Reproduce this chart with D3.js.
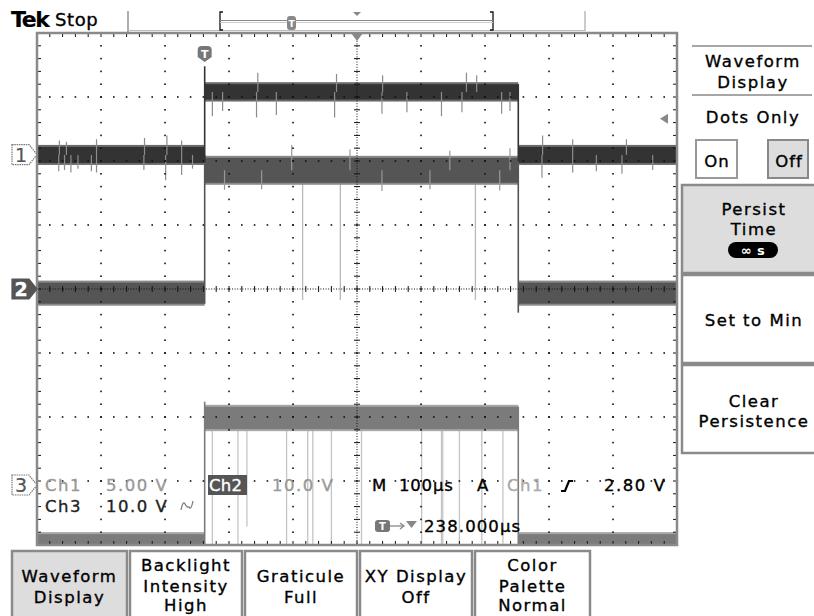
<!DOCTYPE html>
<html><head><meta charset="utf-8">
<script src="https://cdn.jsdelivr.net/npm/d3@7"></script>
<style>
html,body{margin:0;padding:0;background:#fff;}
svg{display:block;}
text{font-family:"DejaVu Sans",sans-serif;}
</style></head><body>
<svg id="c" width="814" height="616"></svg>
<script>
// ================= DATA =================
const timeRange = [-262, 738];     // µs across 10 divisions (100 µs/div, delay 238 µs)
const divRange = [-4, 4];          // vertical divisions
const edgeTimes = [0, 490];        // rising / falling edge times, µs

const ch1Pos = 2.1,  ch1Scale = 5;   // position (div), V/div
const ch2Pos = 0,    ch2Scale = 10;
const ch3Pos = -3.05, ch3Scale = 10;

const ch1Low = [-0.65, 0.6],  ch1High = [4.3, 5.5];
const ch2Low = [-2.3, 1.0],   ch2High = [16.6, 20.5];
const ch3Low = [-9.4, -7.8],  ch3High = [8.6, 12.1];

const ch1EdgeRise = [-0.6, 6.9], ch1EdgeFall = [-0.5, 5.5];
const ch2EdgeRise = [-2.3, 21.0], ch2EdgeFall = [-3.7, 20.5];
const ch3EdgeRise = [-9.4, 12.9], ch3EdgeFall = [-9.4, 12.1];

// noise spikes [time µs, extreme value V]
const ch1Spikes = [
  [-228,-1.3],[-219,-1.2],[-209,-1.4],[-198,-1.1],[-177,-1.3],[-169,-1.4],[-95,-1.2],[-61,-2.0],[-36,-1.6],[-19,-1.1],
  [-227,1.1],[-216,1.0],[-169,1.2],[-94,1.3],[-59,1.5],[-36,1.1],
  [12,3.0],[28,3.4],[81,2.9],[112,3.1],[203,2.9],[277,3.2],[316,3.3],[370,3.0],[402,3.3],[464,3.2],[477,3.4],
  [83,6.4],[206,6.3],[278,6.2],[409,6.4],[425,6.2],
  [527,-1.8],[575,-1.4],[612,-1.3],[652,-1.5],[700,-1.2],
  [528,1.5],[575,1.2],[659,1.2]
];
const ch2Spikes = [
  [136,22.5],[227,21.8],[383,21.6],[477,22.0],
  [31,15.5],[89,15.6],[277,15.3],[352,15.6],[461,15.4]
];
const ch2Dropouts = [153, 212, 423];          // µs
const ch2DropoutLevel = -1.7;                  // V
const ch3Dropouts = [12, 52, 66, 128, 161, 169, 198, 245, 339, 370, 372, 398, 433, 466]; // µs
const ch3DropoutEnds = [-9.4, -9.4, -6.6, -9.4, -9.4, -9.4, -9.4, -9.4, -9.4, -9.4, -9.4, -9.4, -9.4, -9.4]; // V

const triggerLevel = 2.8;                      // V on Ch1

const bottomMenu = [
  ["Waveform","Display"],
  ["Backlight","Intensity","High"],
  ["Graticule","Full"],
  ["XY Display","Off"],
  ["Color","Palette","Normal"]
];
const readout1 = ["Ch1", "5.00 V", "Ch2", "10.0 V", "M", "100µs", "A", "Ch1", "2.80 V"];
const readout2 = ["Ch3", "10.0 V"];
const readout3 = "238.000µs";

// ================= DRAWING =================
const svg = d3.select("#c");
const L = 37, R = 677, T = 33, B = 545;
const x = d3.scaleLinear().domain(timeRange).range([L, R]);
const yd = d3.scaleLinear().domain(divRange).range([B, T]);
const chY = (pos, sc) => v => yd(pos + v / sc);
const y1 = chY(ch1Pos, ch1Scale), y2 = chY(ch2Pos, ch2Scale), y3 = chY(ch3Pos, ch3Scale);

svg.append("defs").append("clipPath").attr("id","gclip")
  .append("rect").attr("x",L).attr("y",T).attr("width",R-L).attr("height",B-T);

const g = svg.append("g").attr("clip-path","url(#gclip)");

function txt(parent, s, xx, yy, opt={}) {
  const fill = opt.fill || "#000";
  return parent.append("text").attr("x",xx).attr("y",yy)
    .attr("font-size", opt.size || 16.5)
    .attr("letter-spacing", opt.ls !== undefined ? opt.ls : 1.5)
    .attr("text-anchor", opt.anchor || "start")
    .attr("font-weight", opt.weight || "normal")
    .attr("font-family", opt.family || "DejaVu Sans")
    .attr("fill", fill)
    .attr("stroke", opt.nostroke ? null : fill)
    .attr("stroke-width", opt.nostroke ? null : (opt.sw || 0.35))
    .text(s);
}

function segs(low, high) {
  return [
    {t0: timeRange[0], t1: edgeTimes[0], b: low},
    {t0: edgeTimes[0], t1: edgeTimes[1], b: high},
    {t0: edgeTimes[1], t1: timeRange[1], b: low}
  ];
}
const channels = [
  {y: y3, low: ch3Low, high: ch3High, core: "#7b7b7b", halo: "#a8a8a8", rise: ch3EdgeRise, fall: ch3EdgeFall},
  {y: y2, low: ch2Low, high: ch2High, core: "#555", halo: "#8a8a8a", rise: ch2EdgeRise, fall: ch2EdgeFall},
  {y: y1, low: ch1Low, high: ch1High, core: "#333", halo: "#6a6a6a", rise: ch1EdgeRise, fall: ch1EdgeFall}
];

g.selectAll("line.d3o").data(ch3Dropouts).enter().append("line")
  .attr("x1", d => x(d)).attr("x2", d => x(d))
  .attr("y1", y3(ch3High[0])).attr("y2", (d,i) => y3(ch3DropoutEnds[i]))
  .attr("stroke","#c4c4c4").attr("stroke-width",1.3);
g.selectAll("line.d2o").data(ch2Dropouts).enter().append("line")
  .attr("x1", d => x(d)).attr("x2", d => x(d))
  .attr("y1", y2(ch2High[0])).attr("y2", y2(ch2DropoutLevel))
  .attr("stroke","#b8b8b8").attr("stroke-width",1.3);

channels.forEach(ch => {
  const s = segs(ch.low, ch.high);
  g.selectAll(null).data(s).enter().append("rect")
    .attr("x", d => x(d.t0)).attr("width", d => x(d.t1) - x(d.t0))
    .attr("y", d => ch.y(d.b[1]) - 2).attr("height", d => ch.y(d.b[0]) - ch.y(d.b[1]) + 4)
    .attr("fill", ch.halo);
  g.selectAll(null).data(s).enter().append("rect")
    .attr("x", d => x(d.t0)).attr("width", d => x(d.t1) - x(d.t0))
    .attr("y", d => ch.y(d.b[1])).attr("height", d => ch.y(d.b[0]) - ch.y(d.b[1]))
    .attr("fill", ch.core);
  [[edgeTimes[0], ch.rise], [edgeTimes[1], ch.fall]].forEach(([t, r]) => {
    g.append("line").attr("x1", x(t)).attr("x2", x(t))
      .attr("y1", ch.y(r[0])).attr("y2", ch.y(r[1]))
      .attr("stroke", ch.core).attr("stroke-width", 1.6);
  });
});

function spikeBase(t, low, high) {
  const inHigh = t >= edgeTimes[0] && t < edgeTimes[1];
  const b = inHigh ? high : low;
  return (b[0] + b[1]) / 2;
}
g.selectAll("line.s1").data(ch1Spikes).enter().append("line")
  .attr("x1", d => x(d[0])).attr("x2", d => x(d[0]))
  .attr("y1", d => y1(spikeBase(d[0], ch1Low, ch1High))).attr("y2", d => y1(d[1]))
  .attr("stroke","#8c8c8c").attr("stroke-width",1.2);
g.selectAll("line.s2").data(ch2Spikes).enter().append("line")
  .attr("x1", d => x(d[0])).attr("x2", d => x(d[0]))
  .attr("y1", d => y2(spikeBase(d[0], ch2Low, ch2High))).attr("y2", d => y2(d[1]))
  .attr("stroke","#999").attr("stroke-width",1.2);

// ---- graticule ----
const grid = svg.append("g");
const minorT = d3.range(0, 50.001, 1).map(i => timeRange[0] + i * (timeRange[1]-timeRange[0]) / 50);
const minorD = d3.range(0, 40.001, 1).map(i => divRange[0] + i * 0.2);
const majorT = d3.range(1, 10).map(i => timeRange[0] + i * 100);
const majorD = d3.range(-3, 4);
const tc = (timeRange[0] + timeRange[1]) / 2;
majorT.filter(t => Math.abs(t - tc) > 1).forEach(t => {
  minorD.slice(1, -1).forEach(dv => {
    grid.append("rect").attr("x", x(t) - 0.8).attr("y", yd(dv) - 0.8).attr("width",1.6).attr("height",1.6).attr("fill","#111");
  });
});
majorD.filter(dv => dv !== 0).forEach(dv => {
  minorT.slice(1, -1).forEach(t => {
    grid.append("rect").attr("x", x(t) - 0.8).attr("y", yd(dv) - 0.8).attr("width",1.6).attr("height",1.6).attr("fill","#111");
  });
});
grid.append("line").attr("x1",L).attr("x2",R).attr("y1",yd(0)).attr("y2",yd(0))
  .attr("stroke","#111").attr("stroke-width",1).attr("stroke-dasharray","1,1.6");
grid.append("line").attr("x1",x(tc)).attr("x2",x(tc)).attr("y1",T).attr("y2",B)
  .attr("stroke","#111").attr("stroke-width",1).attr("stroke-dasharray","1,1.6");
minorT.slice(1,-1).forEach(t => {
  grid.append("line").attr("x1",x(t)).attr("x2",x(t)).attr("y1",yd(0)-3).attr("y2",yd(0)+3).attr("stroke","#111").attr("stroke-width",1);
});
minorD.slice(1,-1).forEach(dv => {
  grid.append("line").attr("x1",x(tc)-3).attr("x2",x(tc)+3).attr("y1",yd(dv)).attr("y2",yd(dv)).attr("stroke","#111").attr("stroke-width",1);
});
minorT.slice(1,-1).forEach(t => {
  grid.append("line").attr("x1",x(t)).attr("x2",x(t)).attr("y1",T+1).attr("y2",T+4).attr("stroke","#111");
  grid.append("line").attr("x1",x(t)).attr("x2",x(t)).attr("y1",B-4).attr("y2",B-1).attr("stroke","#111");
});
minorD.slice(1,-1).forEach(dv => {
  grid.append("line").attr("x1",L+1).attr("x2",L+4).attr("y1",yd(dv)).attr("y2",yd(dv)).attr("stroke","#111");
  grid.append("line").attr("x1",R-4).attr("x2",R-1).attr("y1",yd(dv)).attr("y2",yd(dv)).attr("stroke","#111");
});
grid.append("rect").attr("x",L).attr("y",T).attr("width",R-L).attr("height",B-T)
  .attr("fill","none").attr("stroke","#8a8a8a").attr("stroke-width",2.5);

const xc = x(tc), xt = x(edgeTimes[0]);
svg.append("path").attr("d",`M${xc-6},${T} L${xc+6},${T} L${xc},${T+8} Z`).attr("fill","#888");
svg.append("path").attr("d",`M${xt-7},${50} q0,-4 4,-4 h6 q4,0 4,4 v7 l-7,5 l-7,-5 Z`).attr("fill","#777");
txt(svg,"T",xt,58,{size:11,ls:0,anchor:"middle",weight:"bold",fill:"#fff",nostroke:true});
const ytl = y1(triggerLevel);
svg.append("path").attr("d",`M${R-17},${ytl} L${R-9},${ytl-5} L${R-9},${ytl+5} Z`).attr("fill","#888");

function marker(yc, label, filled) {
  svg.append("path").attr("d",`M12,${yc-10} H29 L37,${yc} L29,${yc+10} H12 Z`)
    .attr("fill", filled ? "#555" : "#fff").attr("stroke", filled ? "#555" : "#777")
    .attr("stroke-width",1.2).attr("stroke-dasharray", filled ? null : "1.5,0.8");
  txt(svg,label,21,yc+7,{size:19,ls:0,anchor:"middle",weight: filled ? "bold":"normal", fill: filled ? "#fff" : "#555", sw: filled ? 0.3 : 0.2});
}
marker(y1(0), "1", false);
marker(y2(0), "2", true);
marker(485, "3", false);

// ---- readouts ----
txt(svg, readout1[0], 45, 491, {fill:"#999"});
txt(svg, readout1[1], 106, 491, {fill:"#999"});
svg.append("rect").attr("x",208).attr("y",475).attr("width",39).attr("height",20).attr("fill","#555");
txt(svg, readout1[2], 209, 491, {fill:"#fff", ls:0.3});
txt(svg, readout1[3], 272, 491, {fill:"#999"});
txt(svg, readout1[4], 372, 491, {});
txt(svg, readout1[5], 399, 491, {ls:0.8});
txt(svg, readout1[6], 477, 491, {});
txt(svg, readout1[7], 507, 491, {fill:"#aaa"});
svg.append("path").attr("d","M561,491 h4 L569,481 h4").attr("fill","none").attr("stroke","#000").attr("stroke-width",2.2);
txt(svg, readout1[8], 604, 491, {});
txt(svg, readout2[0], 45, 512, {fill:"#222"});
txt(svg, readout2[1], 106, 512, {fill:"#222"});
svg.append("path").attr("d","M181,510 q2,-10 4,-6 t4,3 q2,4 4,-6").attr("fill","none").attr("stroke","#777").attr("stroke-width",1.2);
svg.append("rect").attr("x",375).attr("y",520).attr("width",15).attr("height",12).attr("rx",3).attr("fill","#777");
txt(svg,"T",382.5,530,{size:10,ls:0,anchor:"middle",weight:"bold",fill:"#fff",nostroke:true});
svg.append("line").attr("x1",390).attr("x2",403).attr("y1",526).attr("y2",526).attr("stroke","#888").attr("stroke-width",1.3);
svg.append("path").attr("d","M400,523 L404,526 L400,529").attr("fill","none").attr("stroke","#888").attr("stroke-width",1.3);
svg.append("path").attr("d","M406,521 L417,521 L411.5,528 Z").attr("fill","#888");
txt(svg, readout3, 424, 532, {ls:1.1});

// ---- top bar ----
txt(svg,"Tek",11,27,{size:22,ls:-1.4,weight:"bold",family:"Liberation Serif",sw:0.2});
txt(svg,"Stop",55,26,{size:18,ls:0.6});
svg.append("line").attr("x1",128).attr("x2",128).attr("y1",11).attr("y2",32).attr("stroke","#777").attr("stroke-width",1.2);
svg.append("line").attr("x1",128).attr("x2",585).attr("y1",30.5).attr("y2",30.5).attr("stroke","#bbb").attr("stroke-width",1);
svg.append("line").attr("x1",585).attr("x2",585).attr("y1",11).attr("y2",31).attr("stroke","#aaa").attr("stroke-width",1.2);
svg.append("path").attr("d","M223,12 H220 V30 H223").attr("fill","none").attr("stroke","#111").attr("stroke-width",1.3);
svg.append("path").attr("d","M490,12 H493 V30 H490").attr("fill","none").attr("stroke","#111").attr("stroke-width",1.3);
svg.append("line").attr("x1",220).attr("x2",493).attr("y1",20.5).attr("y2",20.5).attr("stroke","#888").attr("stroke-width",1);
svg.append("line").attr("x1",220).attr("x2",493).attr("y1",22.5).attr("y2",22.5).attr("stroke","#ccc").attr("stroke-width",1);
svg.append("rect").attr("x",287).attr("y",16).attr("width",9).attr("height",14).attr("rx",3).attr("fill","#888");
txt(svg,"T",291.5,27,{size:9,ls:0,anchor:"middle",weight:"bold",fill:"#fff",nostroke:true});
svg.append("path").attr("d",`M${xc-4},12 L${xc+4},12 L${xc},16 Z`).attr("fill","#888");

// ---- right menu ----
const rm = svg.append("g");
rm.append("line").attr("x1",692).attr("x2",812).attr("y1",46).attr("y2",46).attr("stroke","#888").attr("stroke-width",1.6);
rm.append("line").attr("x1",692).attr("x2",812).attr("y1",95).attr("y2",95).attr("stroke","#888").attr("stroke-width",1.6);
txt(rm,"Waveform",753,67,{anchor:"middle"});
txt(rm,"Display",753,88,{anchor:"middle"});
txt(rm,"Dots Only",753,123,{anchor:"middle"});
rm.append("rect").attr("x",696).attr("y",140).attr("width",41).attr("height",38).attr("fill","#fff").attr("stroke","#999").attr("stroke-width",2);
rm.append("rect").attr("x",768).attr("y",140).attr("width",40).attr("height",38).attr("fill","#ddd").attr("stroke","#888").attr("stroke-width",2);
txt(rm,"On",717,167,{anchor:"middle",ls:1});
txt(rm,"Off",789,167,{anchor:"middle",ls:1});
function rbox(y0, y1b, fill) {
  rm.append("rect").attr("x",682).attr("y",y0).attr("width",140).attr("height",y1b-y0)
    .attr("fill",fill).attr("stroke","#8a8a8a").attr("stroke-width",2.5);
}
rbox(185, 273, "#ddd");
rbox(275, 363, "#fff");
rbox(365, 453, "#fff");
txt(rm,"Persist",754,215,{anchor:"middle"});
txt(rm,"Time",754,235,{anchor:"middle"});
rm.append("rect").attr("x",728).attr("y",242).attr("width",50).attr("height",16).attr("rx",8).attr("fill","#000");
txt(rm,"∞ s",753,255,{anchor:"middle",fill:"#fff",size:13,weight:"bold",ls:0.5,nostroke:true});
txt(rm,"Set to Min",754,326,{anchor:"middle"});
txt(rm,"Clear",754,407,{anchor:"middle"});
txt(rm,"Persistence",754,427,{anchor:"middle"});

// ---- bottom menu ----
const bm = svg.append("g");
const bx = [[12,127],[130,242],[245,357],[360,472],[475,590]];
bottomMenu.forEach((lines, i) => {
  const [a, b] = bx[i];
  bm.append("rect").attr("x",a).attr("y",551).attr("width",b-a).attr("height",80)
    .attr("fill", i === 0 ? "#ddd" : "#fff").attr("stroke","#8a8a8a").attr("stroke-width",2.5);
  const cx = (a + b) / 2;
  const base = lines.length === 3 ? [571, 592, 611] : [582, 603];
  lines.forEach((s, k) => txt(bm, s, cx, base[k], {anchor:"middle"}));
});
</script>
</body></html>
